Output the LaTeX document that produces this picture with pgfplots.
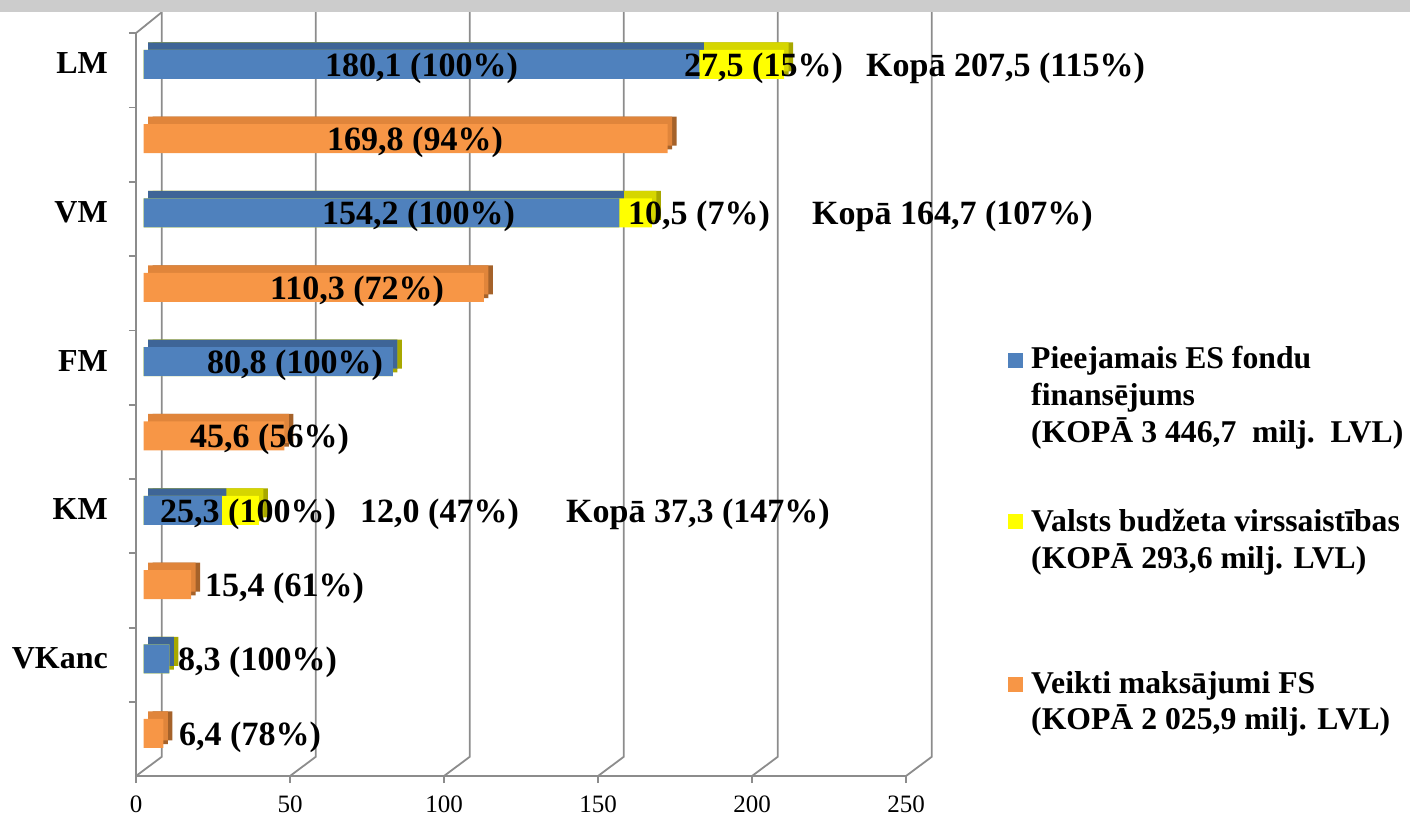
\documentclass[border=0pt]{standalone}
\usepackage{pgfplots}
\pgfplotsset{compat=1.18}
\usepackage{fontspec}
\setmainfont{Liberation Serif}

\definecolor{bluef}{HTML}{4F81BD}
\definecolor{bluet}{HTML}{3E6597}
\definecolor{yelf}{HTML}{FFFF00}
\definecolor{yelt}{HTML}{D6D600}
\definecolor{yels}{HTML}{A8A800}
\definecolor{oraf}{HTML}{F79646}
\definecolor{orat}{HTML}{E0853B}
\definecolor{oras}{HTML}{A5622A}
\definecolor{gridc}{HTML}{8C8C8C}
\definecolor{band}{HTML}{CCCCCC}

\newcommand\lab{\fontsize{34}{40}\selectfont\bfseries}
\newcommand\leg{\fontsize{31.7}{37}\selectfont\bfseries}

\tikzset{
  lbl/.style={anchor=base west, inner sep=0pt, font=\lab, yshift=-12pt},
  cat/.style={anchor=base east, inner sep=0pt, font=\fontsize{32}{38}\selectfont\bfseries, xshift=-28pt, yshift=-9.5pt},
  gl/.style={gridc, line width=1.8pt},
}

% positions: 9=LM, 7=VM, 5=FM, 3=KM, 1=VKanc (available EU funds); 8,6,4,2,0 = payments made
\pgfplotstableread{
p blue total
9 180.1 207.6
7 154.2 164.7
5 80.8 80.8
3 25.3 37.3
1 8.3 8.3
}\availtab
\pgfplotstableread{
p paid
8 169.8
6 110.3
4 45.6
2 15.4
0 6.4
}\paidtab

\pgfplotsset{bb/.style={xbar, bar width=29pt, bar shift=0pt, draw=none, forget plot}}

\begin{document}
\begin{tikzpicture}
\path[use as bounding box] (0,0) rectangle (1410pt,817pt);
\begin{axis}[
  at={(136pt,41pt)}, anchor=south west,
  scale only axis, width=770pt, height=742.9pt,
  xmin=-2.5, xmax=247.1, ymin=-0.575, ymax=9.42,
  clip=false,
  axis x line*=bottom, axis y line*=left,
  axis line style={draw=gridc, line width=1.8pt},
  every tick/.style={draw=gridc, line width=1.8pt},
  tick align=outside,
  major tick length=7pt,
  xtick={-2.496,47.423,97.342,147.261,197.18,247.099},
  xticklabels={0,50,100,150,200,250},
  xticklabel style={font=\fontsize{25}{30}\selectfont, inner sep=0pt, anchor=north, yshift=-13pt},
  ytick={-0.58,0.42,1.42,2.42,3.42,4.42,5.42,6.42,7.42,8.42,9.42},
  yticklabels={},
]
% 3D frame: back wall gridlines and floor
\draw[gl] (axis cs:-2.5,9.42) -- (axis cs:5.835,9.70);
\draw[gl] (axis cs:-2.496,-0.575) -- (axis cs:5.835,-0.317) -- (axis cs:5.835,9.75);
\draw[gl] (axis cs:47.423,-0.575) -- (axis cs:55.754,-0.317) -- (axis cs:55.754,9.75);
\draw[gl] (axis cs:97.342,-0.575) -- (axis cs:105.673,-0.317) -- (axis cs:105.673,9.75);
\draw[gl] (axis cs:147.261,-0.575) -- (axis cs:155.592,-0.317) -- (axis cs:155.592,9.75);
\draw[gl] (axis cs:197.18,-0.575) -- (axis cs:205.511,-0.317) -- (axis cs:205.511,9.75);
\draw[gl] (axis cs:247.099,-0.575) -- (axis cs:255.43,-0.317) -- (axis cs:255.43,9.75);

% side faces
\addplot[bb, fill=yels, xshift=9pt, bar shift=7.5pt] table[x=total, y=p] {\availtab};
\addplot[bb, fill=oras, xshift=9pt, bar shift=7.5pt] table[x=paid, y=p] {\paidtab};
\addplot[bb, fill=yels, xshift=4.5pt, bar shift=3.75pt] table[x=total, y=p] {\availtab};
\addplot[bb, fill=oras, xshift=4.5pt, bar shift=3.75pt] table[x=paid, y=p] {\paidtab};
% top faces
\addplot[bb, fill=yelt, xshift=4.5pt, bar shift=7.5pt] table[x=total, y=p] {\availtab};
\addplot[bb, fill=bluet, xshift=4.5pt, bar shift=7.5pt] table[x=blue, y=p] {\availtab};
\addplot[bb, fill=orat, xshift=4.5pt, bar shift=7.5pt] table[x=paid, y=p] {\paidtab};
% front faces
\addplot[bb, fill=yelf] table[x=total, y=p] {\availtab};
\addplot[bb, fill=bluef] table[x=blue, y=p] {\availtab};
\addplot[bb, fill=oraf] table[x=paid, y=p] {\paidtab};

% category labels
\node[cat] at (axis cs:-2.5,9) {LM};
\node[cat] at (axis cs:-2.5,7) {VM};
\node[cat] at (axis cs:-2.5,5) {FM};
\node[cat] at (axis cs:-2.5,3) {KM};
\node[cat] at (axis cs:-2.5,1) {VKanc};

% value labels
\node[lbl, xshift=181.3pt] at (axis cs:0,9) {180,1 (100\%)};
\node[lbl, xshift=540.3pt] at (axis cs:0,9) {27,5 (15\%)};
\node[lbl, xshift=722.3pt] at (axis cs:0,9) {Kopā 207,5 (115\%)};
\node[lbl, xshift=183.3pt] at (axis cs:0,8) {169,8 (94\%)};
\node[lbl, xshift=178.3pt] at (axis cs:0,7) {154,2 (100\%)};
\node[lbl, xshift=484.3pt] at (axis cs:0,7) {10,5 (7\%)};
\node[lbl, xshift=668.3pt] at (axis cs:0,7) {Kopā 164,7 (107\%)};
\node[lbl, xshift=126.3pt] at (axis cs:0,6) {110,3 (72\%)};
\node[lbl, xshift=63.3pt] at (axis cs:0,5) {80,8 (100\%)};
\node[lbl, xshift=46.3pt] at (axis cs:0,4) {45,6 (56\%)};
\node[lbl, xshift=16.3pt] at (axis cs:0,3) {25,3 (100\%)};
\node[lbl, xshift=216.3pt] at (axis cs:0,3) {12,0 (47\%)};
\node[lbl, xshift=422.3pt] at (axis cs:0,3) {Kopā 37,3 (147\%)};
\node[lbl, xshift=61.3pt] at (axis cs:0,2) {15,4 (61\%)};
\node[lbl, xshift=34.3pt] at (axis cs:0,1) {8,3 (100\%)};
\node[lbl, xshift=35.3pt] at (axis cs:0,0) {6,4 (78\%)};
\end{axis}

% top band
\fill[band] (0pt,804.7pt) rectangle (1410pt,817pt);

% legend
\fill[bluef] (1007.7pt,449.3pt) rectangle (1022.7pt,464.3pt);
\fill[yelf] (1007.7pt,288pt) rectangle (1022.7pt,303pt);
\fill[oraf] (1007.7pt,125.3pt) rectangle (1022.7pt,140.3pt);
\begin{scope}[every node/.style={anchor=base west, inner sep=0pt, font=\leg}]
\node at (1031pt,448pt) {Pieejamais ES fondu};
\node at (1031pt,411pt) {finansējums};
\node at (1031pt,374pt) {(KOPĀ 3 446,7\ \ milj.\ \ LVL)};
\node at (1031pt,285.3pt) {Valsts budžeta virssaistības};
\node at (1031pt,248.3pt) {(KOPĀ 293,6 milj. LVL)};
\node at (1031pt,123.7pt) {Veikti maksājumi FS};
\node at (1031pt,87.7pt) {(KOPĀ 2 025,9 milj. LVL)};
\end{scope}
\end{tikzpicture}
\end{document}
